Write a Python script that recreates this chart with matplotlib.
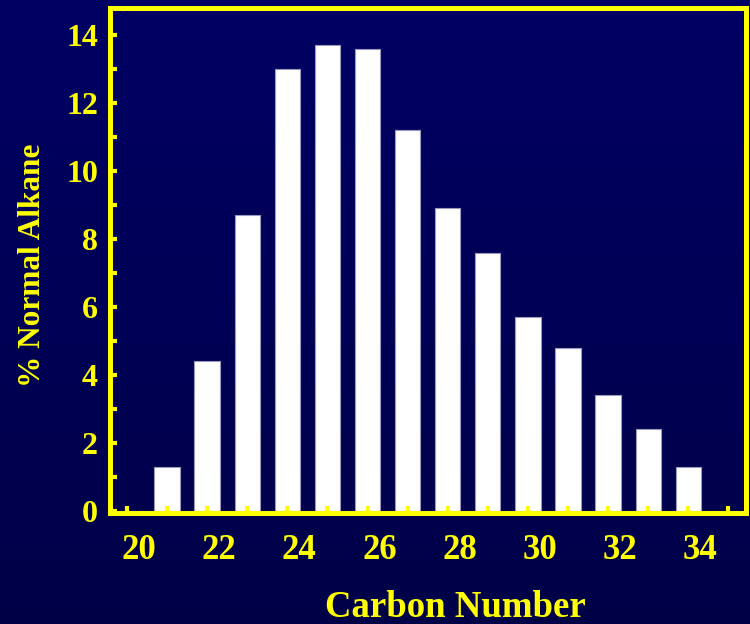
import matplotlib
matplotlib.use('Agg')
import matplotlib.pyplot as plt
import matplotlib.transforms as mtransforms
import numpy as np

# n-alkane distribution by carbon number
carbon = [21, 22, 23, 24, 25, 26, 27, 28, 29, 30, 31, 32, 33, 34]
percent = [1.3, 4.4, 8.7, 13.0, 13.7, 13.6, 11.2, 8.9, 7.6, 5.7, 4.8, 3.4, 2.4, 1.3]
xticks = [20, 22, 24, 26, 28, 30, 32, 34]
yticks = [0, 2, 4, 6, 8, 10, 12, 14]

YELLOW = '#ffff00'
plt.rcParams['font.family'] = ['Liberation Serif', 'DejaVu Serif']
plt.rcParams['font.weight'] = 'bold'

fig = plt.figure(figsize=(7.5, 6.24), dpi=100)

# navy gradient backdrop
bg = fig.add_axes([0, 0, 1, 1], zorder=-10)
grad = np.linspace(0, 1, 256).reshape(-1, 1)
top = np.array([0.0, 0.0, 0.39])
bottom = np.array([0.0, 0.0, 0.28])
img = top + (bottom - top) * grad[..., None]
bg.imshow(img, aspect='auto', extent=[0, 1, 0, 1])
bg.axis('off')

ax = fig.add_axes([0.1473, 0.178, 0.848, 0.8085])
ax.set_facecolor('none')
ax.bar(carbon, percent, width=0.63, color='white', edgecolor='#9a9ac0', linewidth=0.8)

ax.set_xlim(19.59, 35.45)
ax.set_ylim(-0.06, 14.78)
ax.set_axisbelow(False)

for s in ax.spines.values():
    s.set_color(YELLOW)
    s.set_linewidth(3.6)

ax.set_xticks(xticks)
ax.set_xticks(range(21, 36, 2), minor=True)
ax.set_yticks(yticks)
ax.set_yticks(range(1, 15, 2), minor=True)
ax.tick_params(which='both', direction='in', color=YELLOW, length=5, width=3,
               top=False, right=False)
ax.tick_params(axis='x', which='major', labelsize=25, labelcolor=YELLOW, pad=15)
ax.tick_params(axis='y', which='major', labelsize=23, labelcolor=YELLOW, pad=9)

# x labels sit a little right of their ticks
shift = mtransforms.ScaledTranslation(0.12, 0, fig.dpi_scale_trans)
for lbl in ax.get_xticklabels():
    lbl.set_transform(lbl.get_transform() + shift)

fig.text(0.607, 0.0115, 'Carbon Number', color=YELLOW, fontsize=26.5,
         fontweight='bold', ha='center', va='baseline')
fig.text(0.044, 0.575, '% Normal Alkane', color=YELLOW, fontsize=22.5,
         fontweight='bold', ha='center', va='center', rotation=90)

fig.savefig('out.png', dpi=100)
plt.close(fig)
